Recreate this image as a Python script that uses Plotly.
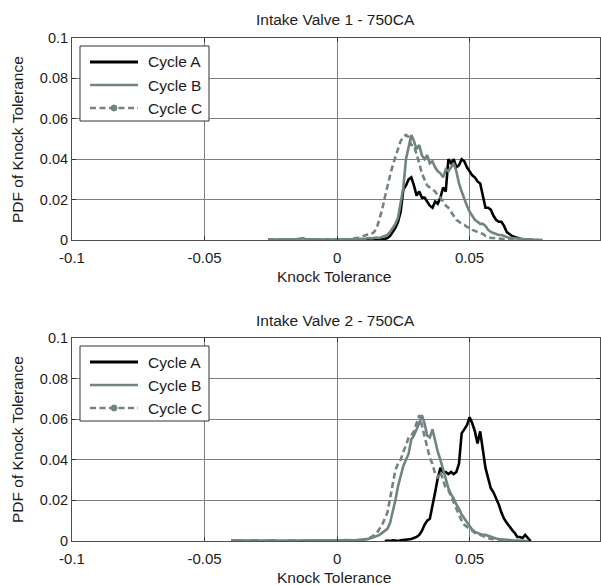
import numpy as np
import plotly.graph_objects as go

# ---------------------------------------------------------------------------
# Data: knock-tolerance PDFs, histogram bin width 0.001
# ---------------------------------------------------------------------------
BIN = 0.001

x_ticks = [-0.1, -0.05, 0.0, 0.05]
x_tick_text = ["-0.1", "-0.05", "0", "0.05"]
y_ticks = [0.0, 0.02, 0.04, 0.06, 0.08, 0.1]
y_tick_text = ["0", "0.02", "0.04", "0.06", "0.08", "0.1"]

series_names = ["Cycle A", "Cycle B", "Cycle C"]
panel_titles = ["Intake Valve 1 - 750CA", "Intake Valve 2 - 750CA"]

# Intake valve 1 ------------------------------------------------------------
iv1_a_start = 0.010
iv1_a = [
    0.0, 0.0003, 0.0, 0.0003, 0.0002, 0.0004, 0.0003, 0.0005,
    0.0005, 0.001,
    0.002, 0.004, 0.006, 0.009, 0.014, 0.025, 0.027, 0.030, 0.031, 0.027,
    0.022, 0.024, 0.021, 0.021, 0.019, 0.017, 0.016, 0.019, 0.018, 0.021,
    0.026, 0.024, 0.040, 0.038, 0.040, 0.036, 0.037, 0.040, 0.039, 0.036,
    0.034, 0.032, 0.031, 0.029, 0.028, 0.022, 0.016, 0.016, 0.015, 0.012,
    0.010, 0.009, 0.009, 0.007, 0.004, 0.003, 0.002, 0.0015, 0.001, 0.0005,
    0.0003, 0.0,
]

iv1_b_start = -0.026
iv1_b = [
    0.0003, 0.0002, 0.0003, 0.0002, 0.0003, 0.0003, 0.0002, 0.0003, 0.0004, 0.0003,
    0.0002, 0.0003, 0.0006, 0.0009, 0.0005, 0.0003, 0.0002, 0.0003, 0.0004, 0.0003,
    0.0002, 0.0003, 0.0004, 0.0003, 0.0002, 0.0003,
    0.0003, 0.0002, 0.0004, 0.0003, 0.0005, 0.0004, 0.0003, 0.0005, 0.0004, 0.0006,
    0.0005, 0.0008, 0.001, 0.0008, 0.001, 0.0012, 0.001, 0.0015, 0.002, 0.0025,
    0.004, 0.006, 0.008, 0.011, 0.018, 0.026, 0.040, 0.046, 0.052, 0.049,
    0.045, 0.047, 0.042, 0.040, 0.042, 0.038, 0.039, 0.036, 0.034, 0.033,
    0.031, 0.035, 0.034, 0.036, 0.038, 0.034, 0.028, 0.024, 0.020, 0.017,
    0.014, 0.012, 0.010, 0.009, 0.008, 0.008, 0.007, 0.005, 0.004, 0.0035,
    0.003, 0.0025, 0.0025, 0.002, 0.0015, 0.001, 0.001, 0.0008, 0.0006, 0.0005,
    0.0004, 0.0003, 0.0003, 0.0002, 0.0002, 0.0001, 0.0,
]

iv1_c_start = -0.026
iv1_c = [
    0.0002, 0.0003, 0.0002, 0.0003, 0.0002, 0.0002, 0.0003, 0.0002, 0.0003, 0.0004,
    0.0003, 0.0002, 0.0005, 0.0007, 0.0004, 0.0002, 0.0003, 0.0002, 0.0003, 0.0004,
    0.0003, 0.0002, 0.0003, 0.0004, 0.0003, 0.0002,
    0.0003, 0.0004, 0.0003, 0.0005, 0.0004, 0.0005,
    0.0005, 0.001, 0.001, 0.0015,
    0.002, 0.0025, 0.003, 0.003, 0.004, 0.006, 0.010, 0.015, 0.021, 0.027,
    0.032, 0.037, 0.041, 0.046, 0.049, 0.051, 0.052, 0.051, 0.047, 0.047,
    0.043, 0.038, 0.033, 0.030, 0.027, 0.026, 0.025, 0.024, 0.022, 0.021,
    0.019, 0.017, 0.016, 0.014, 0.012, 0.010, 0.009, 0.008, 0.0075, 0.0065,
    0.006, 0.005, 0.0045, 0.004, 0.0035, 0.003, 0.002, 0.0015, 0.001, 0.001,
    0.0008, 0.0007, 0.0006, 0.0005, 0.0005, 0.0004, 0.0004, 0.0003, 0.0003, 0.0003,
    0.0002, 0.0002, 0.0002, 0.0002, 0.0001, 0.0001, 0.0001, 0.0001, 0.0,
]

# Intake valve 2 ------------------------------------------------------------
iv2_a_start = 0.018
iv2_a = [
    0.0, 0.0002, 0.0, 0.0003, 0.0002, 0.0, 0.0003, 0.0004, 0.0005, 0.0008,
    0.001, 0.0015,
    0.002, 0.003, 0.005, 0.008, 0.010, 0.011, 0.017, 0.024, 0.031, 0.036,
    0.034, 0.034, 0.033, 0.034, 0.033, 0.034, 0.038, 0.053, 0.055, 0.057,
    0.061, 0.058, 0.054, 0.048, 0.054, 0.045, 0.036, 0.031, 0.026, 0.024,
    0.021, 0.018, 0.014, 0.011, 0.009, 0.007, 0.0055, 0.004, 0.002, 0.002,
    0.0015, 0.003, 0.0015, 0.0,
]

iv2_b_start = -0.040
iv2_b = [
    0.0003, 0.0002, 0.0003, 0.0004, 0.0003, 0.0002, 0.0003, 0.0002, 0.0003, 0.0004,
    0.0003, 0.0002, 0.0003, 0.0003, 0.0002, 0.0003, 0.0004, 0.0003, 0.0002, 0.0003,
    0.0003, 0.0002, 0.0003, 0.0004, 0.0003, 0.0002, 0.0003, 0.0002, 0.0003, 0.0004,
    0.0003, 0.0002, 0.0003, 0.0003, 0.0004, 0.0003, 0.0002, 0.0003, 0.0004, 0.0003,
    0.0003, 0.0004, 0.0003, 0.0005, 0.0004, 0.0003, 0.0005, 0.0004, 0.0006, 0.0005,
    0.0007, 0.0008,
    0.001, 0.0015, 0.002, 0.0025, 0.003, 0.004, 0.005, 0.006,
    0.009, 0.014, 0.020, 0.027, 0.032, 0.037, 0.040, 0.043, 0.050, 0.052,
    0.055, 0.058, 0.062, 0.058, 0.052, 0.051, 0.055, 0.049, 0.044, 0.040,
    0.035, 0.030, 0.026, 0.023, 0.021, 0.018, 0.016, 0.013, 0.011, 0.009,
    0.007, 0.0055, 0.0045, 0.004, 0.0035, 0.003, 0.003, 0.0025, 0.002, 0.0015,
    0.0012, 0.001, 0.0008, 0.0007, 0.0006, 0.0005, 0.0004, 0.0003, 0.0003, 0.0002,
    0.0002, 0.0001, 0.0,
]

iv2_c_start = -0.002
iv2_c = [
    0.0003, 0.0005, 0.0004, 0.0003, 0.0005, 0.0004, 0.0003, 0.0004, 0.0005, 0.0004,
    0.0003, 0.0005,
    0.0005, 0.001, 0.0015, 0.002, 0.003, 0.004, 0.006, 0.008, 0.011, 0.014,
    0.021, 0.029, 0.035, 0.038, 0.040, 0.044, 0.047, 0.051, 0.052, 0.054,
    0.058, 0.062, 0.057, 0.052, 0.046, 0.041, 0.038, 0.033, 0.031, 0.034,
    0.030, 0.026, 0.025, 0.022, 0.019, 0.016, 0.013, 0.010, 0.008, 0.007,
    0.006, 0.005, 0.004, 0.0035, 0.003, 0.0025, 0.002, 0.0015, 0.001, 0.001,
    0.0008, 0.0006, 0.0005, 0.0004, 0.0003, 0.0003, 0.0002, 0.0001, 0.0,
]

panels = [
    [(iv1_a_start, iv1_a), (iv1_b_start, iv1_b), (iv1_c_start, iv1_c)],
    [(iv2_a_start, iv2_a), (iv2_b_start, iv2_b), (iv2_c_start, iv2_c)],
]

# ---------------------------------------------------------------------------
# Styling
# ---------------------------------------------------------------------------
W, H = 601, 585
FONT = "Liberation Sans, Arial, sans-serif"
TXT = "#1c1c1c"
GRAY = "#718482"
styles = [
    dict(color="#000000", width=2.6, dash="solid"),
    dict(color=GRAY, width=2.6, dash="solid"),
    dict(color=GRAY, width=2.6, dash="6px,3.5px"),
]


def px_x(p):
    return p / W


def px_y(p):
    return 1 - p / H


# plot-area pixel boxes (left, top, right, bottom)
boxes = [(72, 38, 600, 240), (72, 338, 600, 541)]

fig = go.Figure()

for i, series in enumerate(panels):
    xa = "x" if i == 0 else "x2"
    ya = "y" if i == 0 else "y2"
    for (start, vals), st in zip(series, styles):
        xs = np.round(start + BIN * np.arange(len(vals)), 4)
        fig.add_trace(go.Scatter(
            x=xs, y=vals, mode="lines", xaxis=xa, yaxis=ya,
            line=dict(color=st["color"], width=st["width"], dash=st["dash"]),
            showlegend=False, hoverinfo="skip",
        ))

axis_common = dict(
    showgrid=True, gridcolor="#7f7f7f", gridwidth=1,
    zeroline=False, showline=True, linecolor="#4d4d4d", linewidth=1,
    mirror="ticks", ticks="inside", ticklen=4, tickcolor="#333333",
    automargin=False,
)

layout_axes = {}
for i, (l, t, r, b) in enumerate(boxes):
    sfx = "" if i == 0 else "2"
    layout_axes["xaxis" + sfx] = dict(
        axis_common, domain=[px_x(l), px_x(r)], range=[-0.1, 0.0992],
        tickvals=x_ticks, ticktext=x_tick_text,
        tickfont=dict(family=FONT, size=15, color=TXT),
        anchor="y" + sfx, ticklabelstandoff=4,
    )
    layout_axes["yaxis" + sfx] = dict(
        axis_common, domain=[px_y(b), px_y(t)], range=[0, 0.1],
        tickvals=y_ticks, ticktext=y_tick_text,
        tickfont=dict(family=FONT, size=14.5, color=TXT),
        anchor="x" + sfx,
    )

annotations = []
shapes = []
for i, (l, t, r, b) in enumerate(boxes):
    # panel title
    annotations.append(dict(
        text=panel_titles[i], x=px_x(336), y=px_y(t - 18), xref="paper", yref="paper",
        showarrow=False, xanchor="center", yanchor="middle",
        font=dict(family=FONT, size=15.5, color=TXT),
    ))
    # axis titles
    annotations.append(dict(
        text="Knock Tolerance", x=px_x(334), y=px_y(b + 36), xref="paper", yref="paper",
        showarrow=False, xanchor="center", yanchor="middle",
        font=dict(family=FONT, size=15.5, color=TXT),
    ))
    annotations.append(dict(
        text="PDF of Knock Tolerance", x=px_x(17), y=px_y(t + 102), xref="paper", yref="paper",
        showarrow=False, xanchor="center", yanchor="middle", textangle=-90,
        font=dict(family=FONT, size=15.5, color=TXT),
    ))

    # legend box
    lx0, ly0, lx1, ly1 = 80, t + 8, 209, t + 83
    shapes.append(dict(
        type="rect", xref="paper", yref="paper", layer="above",
        x0=px_x(lx0), x1=px_x(lx1), y0=px_y(ly1), y1=px_y(ly0),
        line=dict(color="#333333", width=1), fillcolor="white",
    ))
    for k, (name, st) in enumerate(zip(series_names, styles)):
        yy = t + 24 + 23 * k
        shapes.append(dict(
            type="line", xref="paper", yref="paper", layer="above",
            x0=px_x(90), x1=px_x(138), y0=px_y(yy), y1=px_y(yy),
            line=dict(color=st["color"], width=st["width"] + 0.4 if k == 0 else st["width"],
                      dash=st["dash"]),
        ))
        if k == 2:
            shapes.append(dict(
                type="circle", xref="paper", yref="paper", layer="above",
                x0=px_x(111), x1=px_x(117), y0=px_y(yy + 3), y1=px_y(yy - 3),
                line=dict(color=GRAY, width=1), fillcolor=GRAY,
            ))
        annotations.append(dict(
            text=name, x=px_x(146), y=px_y(yy), xref="paper", yref="paper",
            showarrow=False, xanchor="left", yanchor="middle",
            font=dict(family=FONT, size=15.5, color=TXT),
        ))

fig.update_layout(
    width=W, height=H, margin=dict(l=0, r=0, t=0, b=0),
    paper_bgcolor="white", plot_bgcolor="white",
    showlegend=False, annotations=annotations, shapes=shapes,
    **layout_axes,
)

fig.write_html("out.html")
